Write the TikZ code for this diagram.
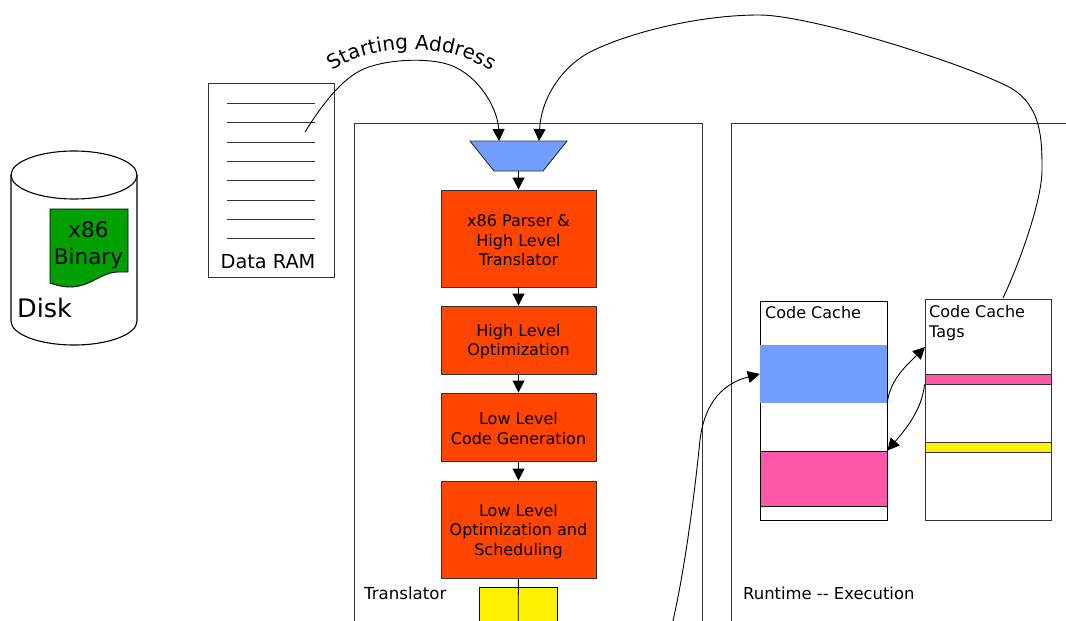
\documentclass[tikz,border=0pt]{standalone}
\usepackage{fontspec}
\setmainfont{DejaVu Sans}
\usetikzlibrary{arrows.meta, decorations.text}
\definecolor{procorange}{HTML}{FF4500}
\definecolor{muxblue}{HTML}{729FFF}
\definecolor{linepink}{HTML}{FF57A8}
\definecolor{diskgreen}{HTML}{00A000}
\definecolor{edgegray}{HTML}{333333}
\newcommand{\procstrut}{\rule{0pt}{15.5pt}}
\tikzset{
  plainbox/.style={draw=edgegray, rectangle, inner sep=0pt, line width=0.9pt},
  procbox/.style={plainbox, fill=procorange, minimum width=155pt, align=center,
    font=\fontsize{16}{19.5}\selectfont},
  boxlabel/.style={inner sep=0pt, anchor=west, font=\fontsize{16}{19.5}\selectfont},
  link/.style={-{Triangle[length=12pt,width=12pt]}, line width=0.9pt},
  wire/.style={line width=0.9pt}
}
\begin{document}
\begin{tikzpicture}[x=1pt,y=-1pt]
\useasboundingbox (0,0) rectangle (1066,621);
\clip (0,0) rectangle (1066,621);
% Disk
\draw[fill=white, line width=1.1pt] (11,175) -- (11,321) arc[start angle=180, end angle=360, x radius=63pt, y radius=24pt] -- (137,175);
\draw[line width=1.1pt] (74,175) ellipse[x radius=63pt, y radius=24pt];
\draw[draw=black, fill=diskgreen, line width=0.9pt] (50,209) -- (128,209) -- (128,272) -- (117,272)
  .. controls (100,273) and (90,287) .. (70,287) .. controls (62,287) and (56,285) .. (50,283) -- cycle;
\node[inner sep=0pt, align=center, font=\fontsize{21.5}{27}\selectfont] (binary) at (88.5,245) {x86\\Binary};
\node[inner sep=0pt, anchor=west, font=\fontsize{25.5}{30}\selectfont] (disklabel) at (17,308) {Disk};

% Data RAM
\node[plainbox, minimum width=126pt, minimum height=194pt] (ram) at (271,180) {};
\foreach \y in {103,122,142,161,180,200,219,238}
    \draw[wire, edgegray] (227,\y) -- (315,\y);
\node[inner sep=0pt, font=\fontsize{19.3}{23}\selectfont] (ramlabel) at (268,262) {Data RAM};
\coordinate (ramaddr) at (305,132);

% Translator
\node[plainbox, minimum width=348pt, minimum height=577pt] (translator) at (528,411.5) {};
\node[boxlabel, font=\fontsize{16.6}{20}\selectfont] (translatorlabel) at (364,593) {Translator};
\draw[draw=edgegray, fill=muxblue, line width=0.9pt] (470,141) -- (567,141) -- (543,171) -- (494,171) -- cycle;
\coordinate (muxleft) at (499,141);
\coordinate (muxright) at (539,141);
\coordinate (mux) at (518.5,171);
\node[procbox, minimum height=97pt] (parser) at (518.5,238.5) {\procstrut x86 Parser \&\\High Level\\Translator};
\node[procbox, minimum height=68pt] (hlopt) at (518.5,340) {\procstrut High Level\\Optimization};
\node[procbox, minimum height=68pt] (codegen) at (518.5,427) {\procstrut Low Level\\Code Generation};
\node[procbox, minimum height=97pt] (llopt) at (518.5,529.5) {\procstrut Low Level\\Optimization and\\Scheduling};
\node[plainbox, draw=black, fill=yellow, minimum width=78pt, minimum height=100pt] (tcache) at (518,637) {};
\draw[link] (mux) -- (parser);
\draw[link] (parser) -- (hlopt);
\draw[link] (hlopt) -- (codegen);
\draw[link] (codegen) -- (llopt);
\draw[wire] (llopt) -- (tcache.south);

% Runtime
\node[plainbox, minimum width=469pt, minimum height=577pt] (runtime) at (965.5,411.5) {};
\node[boxlabel, font=\fontsize{16.4}{20}\selectfont] (runtimelabel) at (743,593) {Runtime {-}{-} Execution};

% Code cache
\node[plainbox, fill=white, draw=black, minimum width=127pt, minimum height=219pt] (cache) at (823.5,410.5) {};
\node[fill=muxblue, inner sep=0pt, minimum width=127pt, minimum height=58pt] (cacheblue) at (823.5,374) {};
\node[plainbox, fill=linepink, draw=black, minimum width=127pt, minimum height=55pt] (cachepink) at (823.5,478.5) {};
\node[boxlabel] (cachelabel) at (765,313) {Code Cache};

% Code cache tags
\node[plainbox, fill=white, minimum width=126pt, minimum height=221pt] (tags) at (988,409.5) {};
\node[plainbox, fill=linepink, minimum width=126pt, minimum height=10pt] (tagpink) at (988,379) {};
\node[plainbox, fill=yellow, minimum width=126pt, minimum height=10pt] (tagyellow) at (988,447) {};
\node[boxlabel, align=left] (tagslabel) at (929,323) {Code Cache\\Tags};

% Arrows
\coordinate (tagsout) at (1003,298);
\coordinate (tagsin) at (925,347);
\coordinate (feedin) at (672,625);
\draw[link] (ramaddr) .. controls (330,92) and (350,72) .. (372,66)
  .. controls (395,59) and (430,58) .. (450,65) .. controls (480,76) and (498,110) .. (muxleft);
\draw[link] (tagsout) .. controls (1020,262) and (1042,200) .. (1042,170)
  .. controls (1042,140) and (1042,105) .. (1009,87) .. controls (960,62) and (810,15) .. (759,15)
  .. controls (700,15) and (630,32) .. (590,52) .. controls (560,68) and (541,100) .. (muxright);
\draw[link] (feedin) .. controls (685,570) and (695,490) .. (700,440)
  .. controls (705,400) and (725,383) .. (cacheblue.west);
\draw[link] (cacheblue.south east) .. controls (890,380) and (905,367) .. (tagsin);
\draw[link] (tagpink.south west) .. controls (922,410) and (905,430) .. (cachepink.north east);

% Label along the address curve
\path[decorate, decoration={text along path, text align=center,
  text={|\fontsize{20}{24}\selectfont|Starting Address}}]
  (331,72) .. controls (370,42) and (450,42) .. (493,72);
\end{tikzpicture}
\end{document}
